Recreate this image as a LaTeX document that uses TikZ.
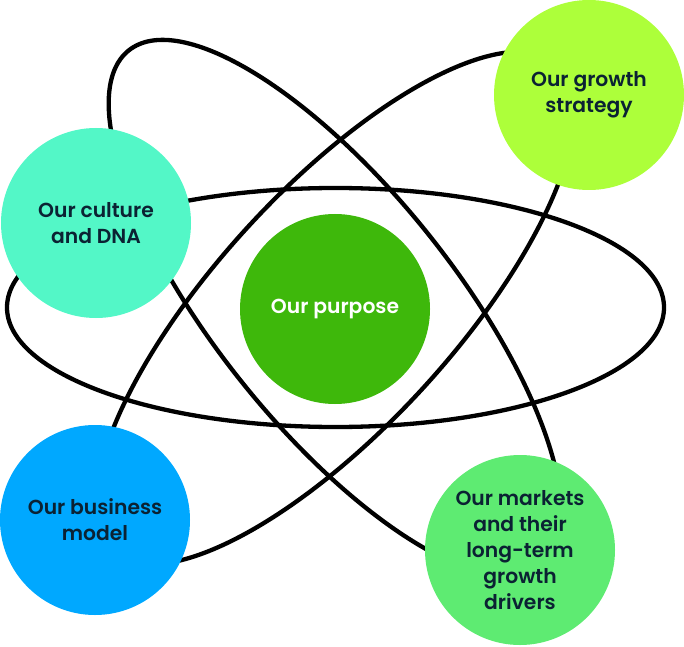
\documentclass[tikz,border=0pt]{standalone}
\usepackage{fontspec}
\setmainfont{Poppins}
\newfontfamily\lblfont{Poppins SemiBold}
\definecolor{purp}{HTML}{3EB80B}
\definecolor{cult}{HTML}{53F7C7}
\definecolor{grow}{HTML}{ADFF3A}
\definecolor{busi}{HTML}{00A8FF}
\definecolor{mark}{HTML}{5EEB72}
\definecolor{ink}{HTML}{0B2233}
\begin{document}
\begin{tikzpicture}[x=1pt,y=1pt,
  orbit/.style={line width=4.3pt, draw=black},
  bubble/.style={circle, minimum size=190pt, inner sep=0pt, align=center,
    text=ink, font=\lblfont\fontsize{20.3}{26}\selectfont}]
\useasboundingbox (0,0) rectangle (684,646);
\coordinate (c) at (335,338);
\coordinate (ch) at (335.5,338.5);
\draw[orbit] (ch) ellipse [x radius=328.5pt, y radius=119.5pt];
\draw[orbit, rotate around={-51.3:(c)}] (c) ellipse [x radius=330pt, y radius=119pt];
\draw[orbit, rotate around={47.5:(c)}] (c) ellipse [x radius=330pt, y radius=119pt];
\node[bubble, fill=purp, text=white] (purpose) at (335,337) {Our purpose};
\node[bubble, fill=cult] (culture) at (96,423) {Our culture\\and DNA};
\node[bubble, fill=grow] (growth) at (589,551) {Our growth\\strategy};
\node[bubble, fill=busi] (business) at (95,126) {Our business\\model};
\node[bubble, fill=mark] (markets) at (520,96) {Our markets\\and their\\long-term\\growth\\drivers};
\end{tikzpicture}
\end{document}
